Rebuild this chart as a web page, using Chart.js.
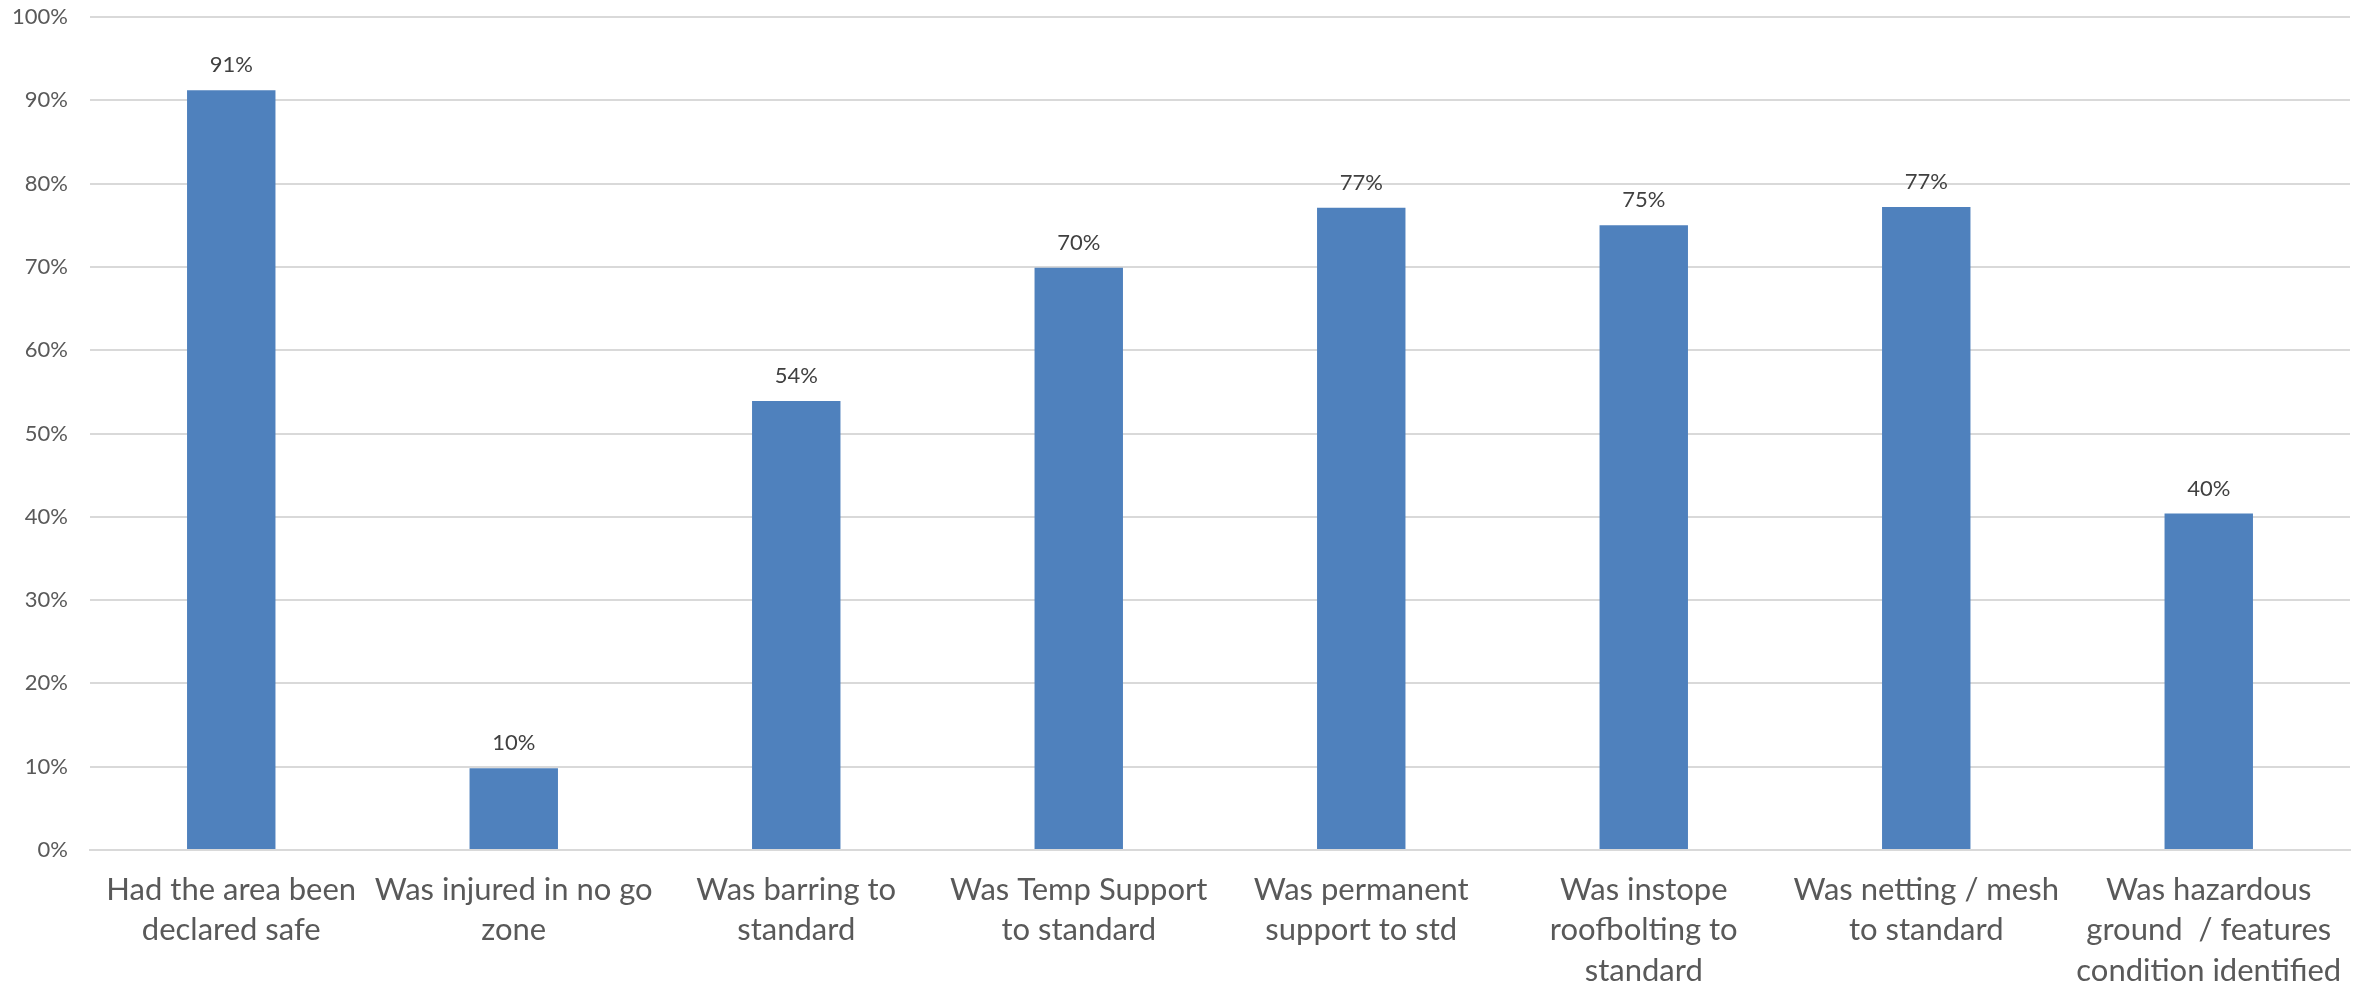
<!DOCTYPE html>
<html>
<head>
<meta charset="utf-8">
<script src="https://cdn.jsdelivr.net/npm/chart.js@4.4.0/dist/chart.umd.min.js"></script>
<style>
  html, body { margin: 0; padding: 0; background: #fff; }
  #wrap { width: 2366px; height: 986px; }
</style>
</head>
<body>
<div id="wrap"><canvas id="resultChart"></canvas></div>
<script>
// categories (wrapped like the original labels)
const categories = [
    ['Had the area been', 'declared safe'],
    ['Was injured in no go', 'zone'],
    ['Was barring to', 'standard'],
    ['Was Temp Support', 'to standard'],
    ['Was permanent', 'support to std'],
    ['Was instope', 'roofbolting to', 'standard'],
    ['Was netting / mesh', 'to standard'],
    ['Was hazardous', 'ground  / features', 'condition identified']
];

// percent values
const values = [91.2, 9.8, 53.9, 69.9, 77.1, 75.0, 77.2, 40.4];

// y axis ticks
const yTicks = [0, 10, 20, 30, 40, 50, 60, 70, 80, 90, 100];

const FONT = 'Lato, "Open Sans", sans-serif';

// draws the % label above each bar
const barLabels = {
    id: 'barLabels',
    afterDatasetsDraw(chart) {
        const ctx = chart.ctx;
        const meta = chart.getDatasetMeta(0);
        ctx.save();
        ctx.font = '22px ' + FONT;
        ctx.fillStyle = '#404040';
        ctx.textAlign = 'center';
        ctx.textBaseline = 'bottom';
        meta.data.forEach((bar, i) => {
            ctx.fillText(Math.round(values[i]) + '%', bar.x, bar.y - 14);
        });
        ctx.restore();
    }
};

const ctx = document.getElementById('resultChart').getContext('2d');
const resultChart = new Chart(ctx, {
    type: 'bar',
    data: {
        labels: categories,
        datasets: [{
            data: values,
            backgroundColor: '#4F81BD',
            barPercentage: 0.313,
            categoryPercentage: 1.0
        }]
    },
    options: {
        responsive: true,
        maintainAspectRatio: false,
        animation: false,
        layout: { padding: { top: 17, right: 16, left: 0, bottom: 0 } },
        plugins: {
            legend: { display: false },
            tooltip: { enabled: false }
        },
        scales: {
            x: {
                grid: { display: false, drawTicks: false },
                border: { display: true, color: '#D9D9D9', width: 2 },
                ticks: {
                    color: '#595959',
                    font: { family: FONT, size: 31, lineHeight: 1.3 },
                    padding: 20,
                    maxRotation: 0,
                    autoSkip: false
                },
                afterFit(scale) {
                    scale.height = 136;
                    scale.paddingLeft = 0;
                    scale.paddingRight = 0;
                }
            },
            y: {
                min: 0,
                max: 100,
                afterBuildTicks(scale) {
                    scale.ticks = yTicks.map(v => ({ value: v }));
                },
                grid: { color: '#D9D9D9', lineWidth: 2, drawTicks: false },
                border: { display: false },
                ticks: {
                    color: '#595959',
                    font: { family: FONT, size: 22 },
                    padding: 22,
                    callback: v => v + '%'
                },
                afterFit(scale) {
                    scale.width = 90;
                    scale.paddingTop = 0;
                    scale.paddingBottom = 0;
                }
            }
        }
    },
    plugins: [barLabels]
});
</script>
</body>
</html>
